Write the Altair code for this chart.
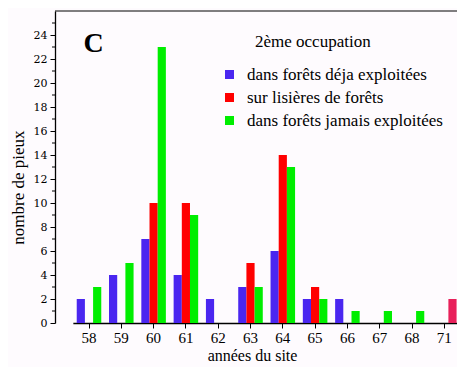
import altair as alt
import pandas as pd

years = ["58", "59", "60", "61", "62", "63", "64", "65", "66", "67", "68", "71"]
series = ["dans forêts déja exploitées", "sur lisières de forêts", "dans forêts jamais exploitées"]
blue = [2, 4, 7, 4, 2, 3, 6, 2, 2, 0, 0, 0]
red = [0, 0, 10, 10, 0, 5, 14, 3, 0, 0, 0, 0]
green = [3, 5, 23, 9, 0, 3, 13, 2, 1, 1, 1, 0]
extra = [0, 0, 0, 0, 0, 0, 0, 0, 0, 0, 0, 2]  # crimson bar at 71
colors = ["#4a26f0", "#ff0000", "#00ee00", "#e8205a"]
y_ticks = list(range(0, 26, 2))
y_minor = list(range(1, 26, 2))

rows = []
for i, yr in enumerate(years):
    for slot, (name, vals) in enumerate(zip(series, [blue, red, green])):
        if vals[i]:
            rows.append({"year": yr, "series": name, "slot": slot, "value": vals[i]})
    if extra[i]:
        rows.append({"year": yr, "series": "autre", "slot": 2, "value": extra[i]})
df = pd.DataFrame(rows)

W, H = 402, 312
FONT = "Liberation Serif"

y_scale = alt.Scale(domain=[0, 26], nice=False)
y_axis = alt.Axis(values=y_ticks, title="nombre de pieux", tickSize=5,
                  labelFont="DejaVu Serif", labelFontSize=11, labelPadding=3,
                  labelOverlap=False, titleFontSize=17, titlePadding=6,
                  titleFontWeight="normal", titleY=176, grid=False)

bars = alt.Chart(df).mark_bar().encode(
    x=alt.X("year:N", sort=years,
            scale=alt.Scale(range=[17.85, 405.45], paddingInner=0.24, paddingOuter=0.12),
            axis=alt.Axis(title="années du site", labelAngle=0, tickSize=5,
                          labelFontSize=15, titleFontSize=16, labelPadding=2,
                          titleFontWeight="normal", titleBaseline="alphabetic",
                          titleX=197, titleY=37, titleAlign="center")),
    xOffset=alt.XOffset("slot:O", scale=alt.Scale(domain=[0, 1, 2], paddingInner=0, paddingOuter=0)),
    y=alt.Y("value:Q", scale=y_scale, axis=y_axis),
    color=alt.Color("series:N",
                    scale=alt.Scale(domain=series + ["autre"], range=colors),
                    legend=alt.Legend(values=series, title=None, orient="none",
                                      legendX=166, legendY=55, symbolType="square",
                                      symbolSize=81, symbolStrokeWidth=0,
                                      labelFontSize=17, labelFont=FONT,
                                      labelColor="black", rowPadding=5,
                                      labelOffset=9, labelLimit=300)),
)

minor = alt.Chart(pd.DataFrame({"value": y_minor})).mark_rule(color="black", strokeWidth=1).encode(
    y=alt.Y("value:Q", scale=y_scale, axis=y_axis),
    x=alt.value(-3),
    x2=alt.value(0),
)

top = alt.Chart(pd.DataFrame({"a": [0]})).mark_rule(color="black", strokeWidth=1).encode(
    x=alt.value(0), x2=alt.value(W), y=alt.value(0)
)

letter = alt.Chart(pd.DataFrame({"t": ["C"]})).mark_text(
    font=FONT, fontSize=28, fontWeight="bold", color="black", align="center", baseline="middle"
).encode(text="t:N", x=alt.value(38.5), y=alt.value(33))

subtitle = alt.Chart(pd.DataFrame({"t": ["2ème occupation"]})).mark_text(
    font=FONT, fontSize=17, color="black", align="left", baseline="middle"
).encode(text="t:N", x=alt.value(200), y=alt.value(31))

chart = alt.layer(bars, minor, top, letter, subtitle).properties(
    width=W, height=H,
    autosize=alt.AutoSizeParams(type="none"),
    padding={"left": 47, "top": 3, "right": 0, "bottom": 44},
    background="#fefbfe",
).configure(font=FONT).configure_view(stroke=None).configure_axis(
    labelFont=FONT, titleFont=FONT, labelColor="black", titleColor="black",
    domainColor="black", tickColor="black", domainWidth=1.3, tickWidth=1,
)

chart.save("out.html", embed_options={"renderer": "svg", "actions": False})
